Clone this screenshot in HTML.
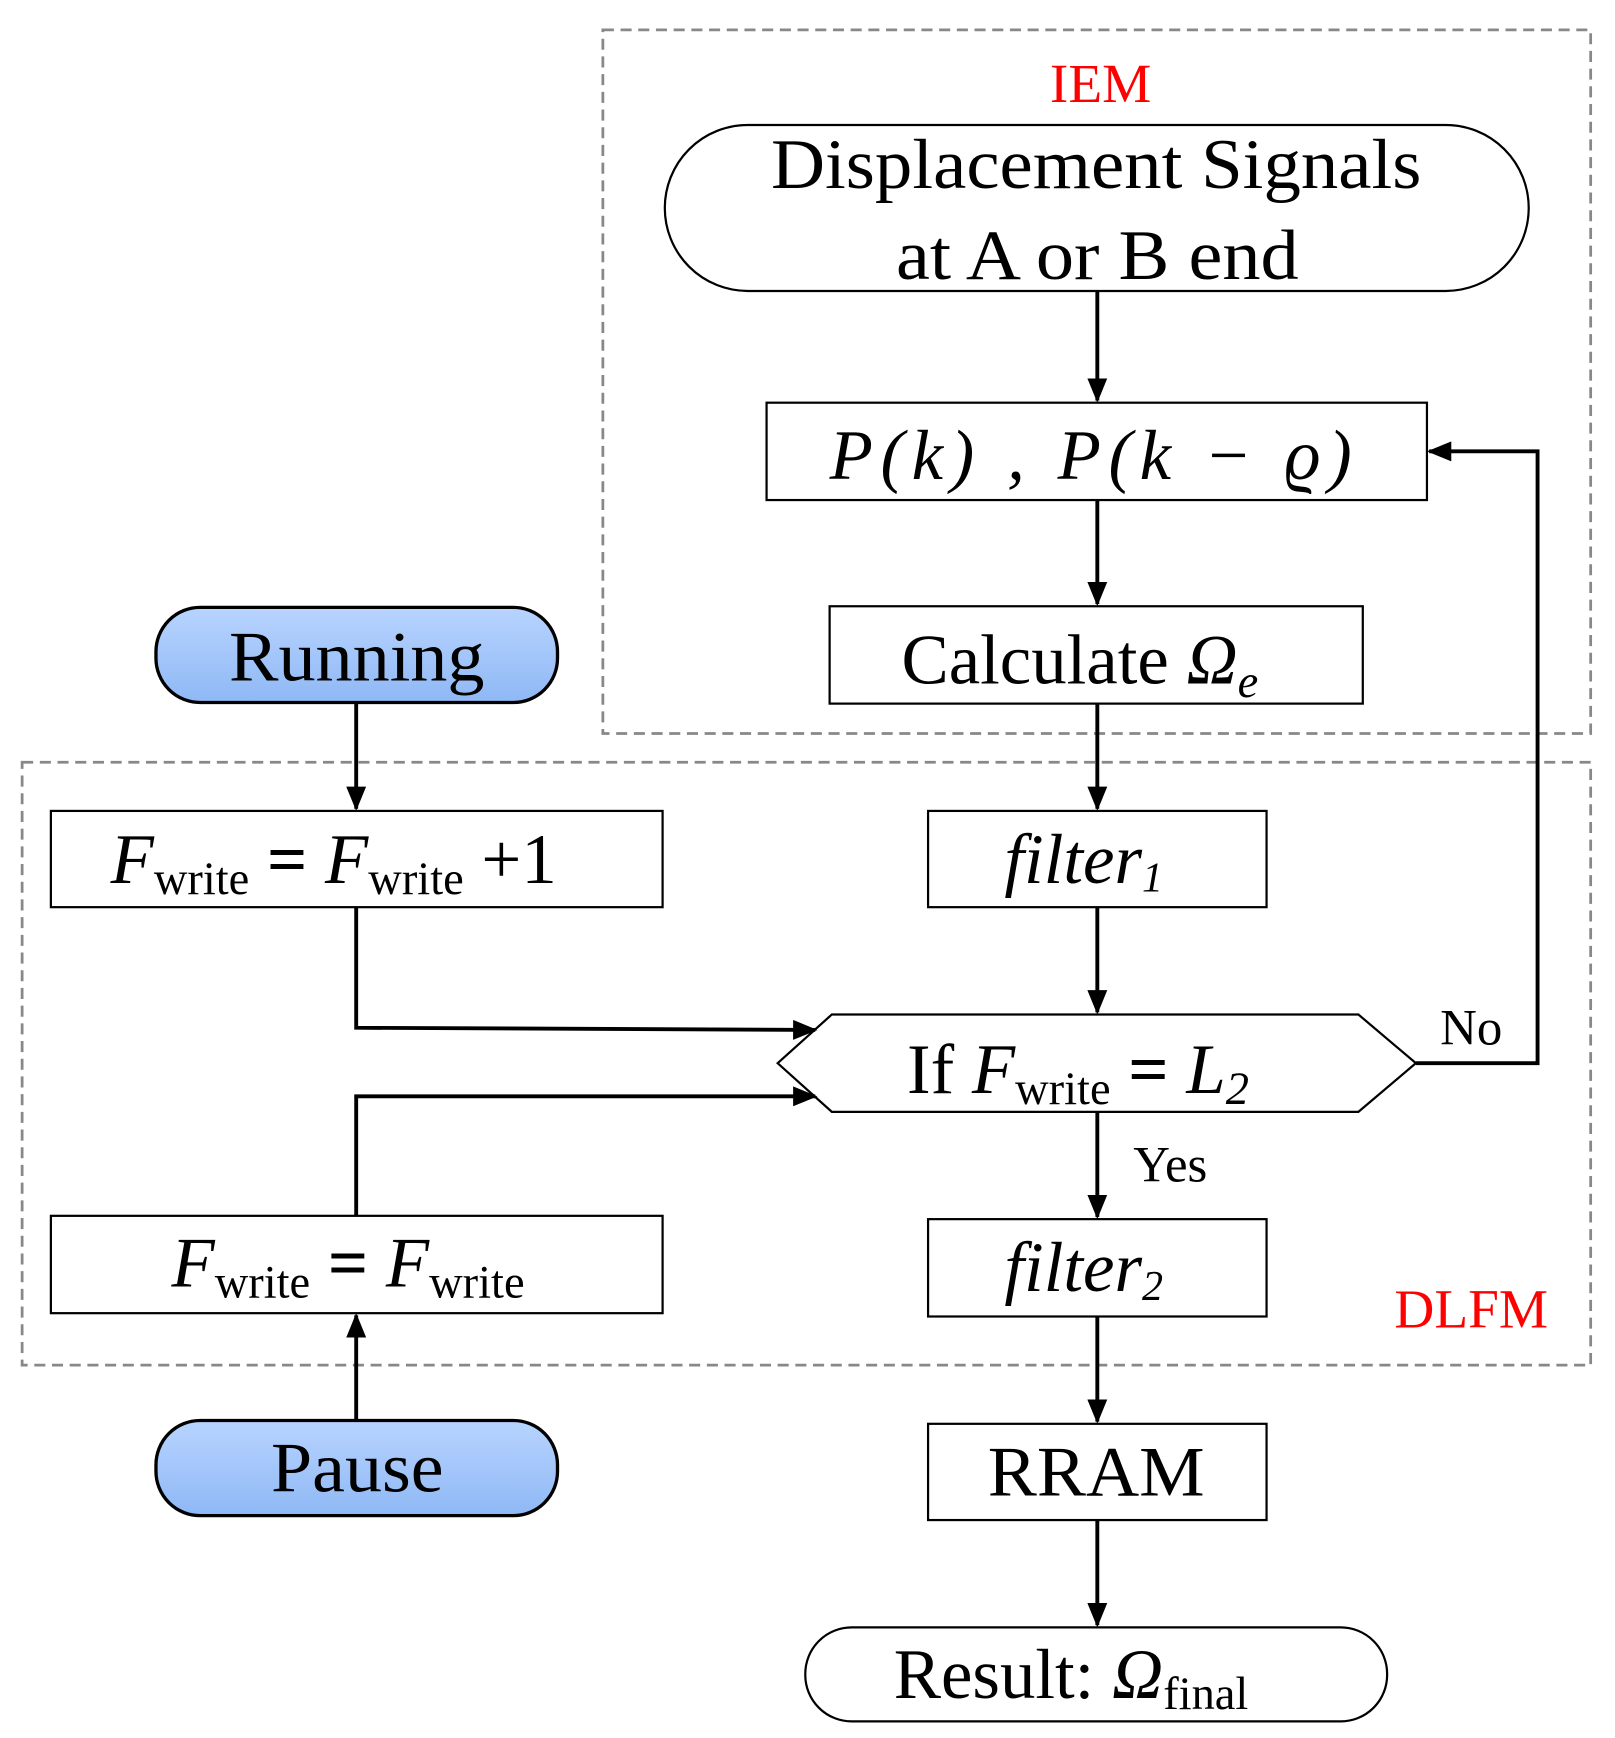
<!DOCTYPE html>
<html><head><meta charset="utf-8"><style>html,body{margin:0;padding:0;background:#fff}svg{display:block}</style></head>
<body>
<svg width="1615" height="1738" viewBox="0 0 1460 1571" preserveAspectRatio="none" xmlns="http://www.w3.org/2000/svg" font-family="'Liberation Serif', serif">
<defs>
<linearGradient id="b" x1="0" y1="0" x2="0" y2="1"><stop offset="0" stop-color="#b8d4ff"/><stop offset="1" stop-color="#8fb8f5"/></linearGradient>
<marker id="m" markerWidth="22" markerHeight="18" refX="20" refY="9" orient="auto" markerUnits="userSpaceOnUse"><path d="M0,0 L22,9 L0,18 z" fill="#000"/></marker>
</defs>
<g fill="none" stroke="#888" stroke-width="2.5" stroke-dasharray="10,6">
<rect x="545" y="27" width="893" height="636"/>
<rect x="20" y="689" width="1418" height="545"/>
</g>
<text x="995" y="92" font-size="50" fill="#f00" text-anchor="middle">IEM</text>
<text x="1330" y="1200" font-size="50" fill="#f00" text-anchor="middle">DLFM</text>
<g fill="#fff" stroke="#000" stroke-width="2">
<rect x="601" y="113" width="781" height="150" rx="75"/>
<rect x="693" y="364" width="597" height="88"/>
<rect x="750" y="548" width="482" height="88"/>
<rect x="839" y="733" width="306" height="87"/>
<polygon points="703,961 752,917 1228,917 1280,961 1228,1005 752,1005"/>
<rect x="839" y="1102" width="306" height="88"/>
<rect x="839" y="1287" width="306" height="87"/>
<rect x="728" y="1471" width="526" height="85" rx="42"/>
<rect x="46" y="733" width="553" height="87"/>
<rect x="46" y="1099" width="553" height="88"/>
</g>
<g fill="url(#b)" stroke="#000" stroke-width="3">
<rect x="141" y="549" width="363" height="86" rx="40"/>
<rect x="141" y="1284" width="363" height="86" rx="40"/>
</g>
<g stroke="#000" stroke-width="3.5" fill="none" marker-end="url(#m)">
<line x1="992" y1="263" x2="992" y2="362"/>
<line x1="992" y1="452" x2="992" y2="546"/>
<line x1="992" y1="636" x2="992" y2="731"/>
<line x1="992" y1="820" x2="992" y2="915"/>
<line x1="992" y1="1005" x2="992" y2="1100"/>
<line x1="992" y1="1190" x2="992" y2="1285"/>
<line x1="992" y1="1374" x2="992" y2="1469"/>
<line x1="322" y1="635" x2="322" y2="731"/>
<line x1="322" y1="1284" x2="322" y2="1189"/>
<polyline points="1280,961 1390,961 1390,408 1292,408"/>
<polyline points="322,820 322,929 737,931"/>
<polyline points="322,1099 322,991 737,991"/>
</g>
<g font-size="64" fill="#000">
<text x="697" y="170" textLength="588" lengthAdjust="spacingAndGlyphs">Displacement Signals</text>
<text x="810" y="252" textLength="364" lengthAdjust="spacingAndGlyphs">at A or B end</text>
<text x="750" y="433" font-style="italic" textLength="472" lengthAdjust="spacing">P(k)  , P(k − ϱ)</text>
<text x="815" y="618">Calculate <tspan font-style="italic">Ω<tspan font-size="42" dy="12">e</tspan></tspan></text>
<text x="908" y="798" font-style="italic">filter<tspan font-size="38" dy="8">1</tspan></text>
<text x="820" y="988">If <tspan font-style="italic">F</tspan><tspan font-size="42" dy="10">write</tspan><tspan dy="-10" font-weight="bold"> = </tspan><tspan font-style="italic">L</tspan><tspan font-size="42" font-style="italic" dy="10">2</tspan></text>
<text x="908" y="1167" font-style="italic">filter<tspan font-size="38" dy="8">2</tspan></text>
<text x="893" y="1352" textLength="196" lengthAdjust="spacingAndGlyphs">RRAM</text>
<text x="808" y="1535">Result: <tspan font-style="italic">Ω</tspan><tspan font-size="42" dy="10">final</tspan></text>
<text x="207" y="615" textLength="231" lengthAdjust="spacingAndGlyphs">Running</text>
<text x="245" y="1348" textLength="156" lengthAdjust="spacingAndGlyphs">Pause</text>
<text x="100" y="798"><tspan font-style="italic">F</tspan><tspan font-size="42" dy="10">write</tspan><tspan dy="-10" font-weight="bold"> = </tspan><tspan font-style="italic">F</tspan><tspan font-size="42" dy="10">write</tspan><tspan dy="-10"> +1</tspan></text>
<text x="155" y="1163"><tspan font-style="italic">F</tspan><tspan font-size="42" dy="10">write</tspan><tspan dy="-10" font-weight="bold"> = </tspan><tspan font-style="italic">F</tspan><tspan font-size="42" dy="10">write</tspan></text>
</g>
<text x="1330" y="944" font-size="46" text-anchor="middle">No</text>
<text x="1058" y="1068" font-size="46" text-anchor="middle">Yes</text>
</svg>
</body></html>
